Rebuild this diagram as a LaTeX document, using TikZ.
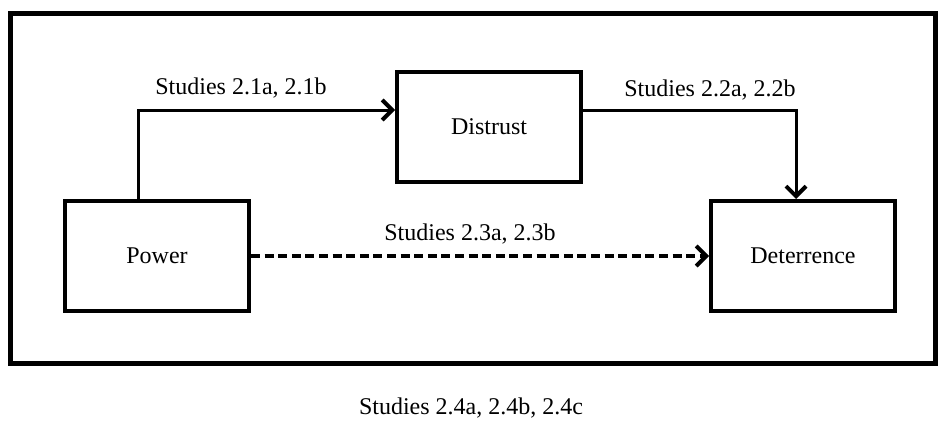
\documentclass[tikz,border=0pt]{standalone}
\usepackage{fontspec}
\setmainfont{Liberation Serif}
\usetikzlibrary{positioning,calc,arrows.meta}

\begin{document}
\begin{tikzpicture}
	\begin{scope}[x=0.5pt, y=-0.5pt]
		\tikzstyle{every node}=[align=center, inner sep=0.2em, font=\fontsize{12}{14}\selectfont]
		\tikzstyle{box}=[draw, line width=2pt, minimum width=92pt, minimum height=55pt]
		\tikzstyle{link}=[line width=1.5pt, -{Straight Barb[length=5pt, width=10pt, line width=2pt]}]

		\useasboundingbox (0, 0) rectangle (942, 428);

		\node [draw, line width=2.5pt, minimum width=462.5pt, minimum height=175pt] (frame) at (472.5, 188) {};

		\node [box] (power)      at (157, 256) {{Power}};
		\node [box] (distrust)   at (489, 127) {{Distrust}};
		\node [box] (deterrence) at (803, 256) {{Deterrence}};

		\coordinate (bendA) at (138, 110);
		\coordinate (bendB) at (796, 110);

		\draw [link] (power.north -| bendA) |- (distrust.west |- bendA);
		\draw [link] (distrust.east |- bendB) -| (deterrence.north -| bendB);
		\draw [link, dash pattern=on 4.5pt off 2.3pt, line width=1.6pt] (power) to (deterrence);

		\node (s21) at (241, 88)  {{Studies 2.1a, 2.1b}};
		\node (s22) at (710, 90)  {{Studies 2.2a, 2.2b}};
		\node (s23) at (470, 234) {{Studies 2.3a, 2.3b}};
		\node (s24) at (471, 408) {{Studies 2.4a, 2.4b, 2.4c}};

	\end{scope}
\end{tikzpicture}
\end{document}
